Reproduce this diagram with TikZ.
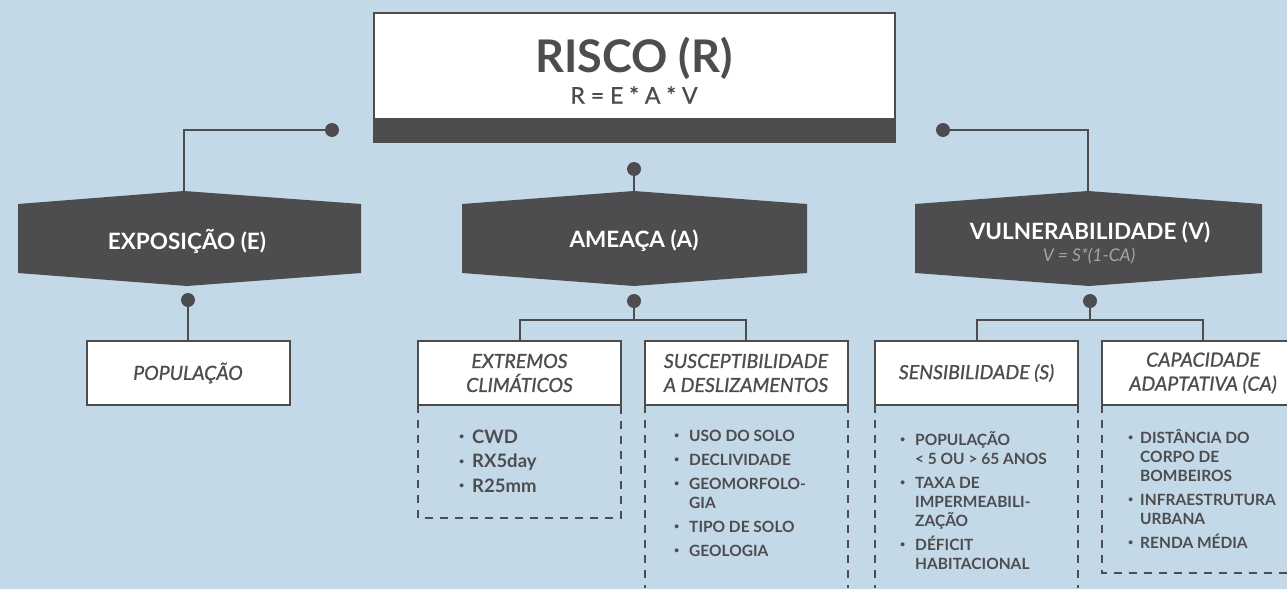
\documentclass[tikz,border=0pt]{standalone}
\usepackage{fontspec}
\setmainfont{Lato}
\newfontfamily\semi[FakeBold=1]{Lato}
\usetikzlibrary{positioning}

\definecolor{fundo}{RGB}{195,217,232}
\definecolor{cinza}{RGB}{77,77,79}
\definecolor{claro}{RGB}{165,165,168}

\newcommand{\marca}[1][15pt]{\makebox[#1][l]{\raisebox{0.19em}{\fontsize{9}{9}\selectfont\textbullet}}}
\newcommand{\recuo}[1][15pt]{\hspace*{#1}}

\tikzset{
  caixa/.style={draw=cinza,line width=2pt,fill=white,minimum width=203pt,minimum height=64pt,
    inner sep=0pt,outer sep=0pt,align=center,text=cinza,font=\semi\itshape\fontsize{19.5}{24}\selectfont},
  rotulo/.style={text=white,font=\bfseries\fontsize{22.5}{25}\selectfont,align=center},
  liga/.style={cinza,line width=2pt},
  ponto/.style={circle,fill=cinza,inner sep=0pt,minimum size=14pt},
  tracos/.style={cinza,line width=2pt,dash pattern=on 8pt off 7pt},
  lista/.style={text=cinza,font=\bfseries\fontsize{15.5}{19}\selectfont,align=left,anchor=north west,inner sep=0pt}
}

\begin{document}
\begin{tikzpicture}[x=1pt,y=-1pt]
  \useasboundingbox (0,0) rectangle (1287,589);
  \fill[fundo] (0,0) rectangle (1287,589);

  % risco
  \fill[cinza] (373,12) rectangle (896,143);
  \fill[white] (375,14) rectangle (894,118);
  \node[text=cinza,font=\bfseries\fontsize{45}{45}\selectfont] (risco) at (634,58) {RISCO (R)};
  \node[text=cinza,font=\semi\fontsize{23}{23}\selectfont] (formula) at (634,95) {R = E * A * V};

  % componentes
  \fill[cinza] (18,204) -- (184,191) -- (361,204) -- (361,273) -- (187,286) -- (18,273) -- cycle;
  \fill[cinza] (462,204) -- (634,191) -- (807,204) -- (807,273) -- (634,286) -- (462,273) -- cycle;
  \fill[cinza] (915,204) -- (1088,191) -- (1262,204) -- (1262,273) -- (1089,286) -- (915,273) -- cycle;
  \coordinate (expo-n) at (184,191);
  \coordinate (ameaca-n) at (634,191);
  \coordinate (vulne-n) at (1088,191);
  \node[rotulo] (expo) at (187,241) {EXPOSIÇÃO (E)};
  \node[rotulo] (ameaca) at (634,241) {AMEAÇA (A)};
  \node[rotulo] (vulne) at (1090,232) {VULNERABILIDADE (V)};
  \node[text=claro,font=\itshape\fontsize{17.5}{17.5}\selectfont] (formulav) at (1089,256) {V = S*(1-CA)};

  \node[ponto] (d1) at (332,130) {};
  \node[ponto] (d2) at (634,169) {};
  \node[ponto] (d3) at (943,130) {};
  \draw[liga] (d1) -| (expo-n);
  \draw[liga] (d2) -- (ameaca-n);
  \draw[liga] (d3) -| (vulne-n);

  % indicadores
  \node[caixa] (popul) at (188,373) {POPULAÇÃO};
  \node[caixa] (extremos) at (519.5,373) {EXTREMOS\\CLIMÁTICOS};
  \node[caixa] (suscept) at (746,373) {SUSCEPTIBILIDADE\\A DESLIZAMENTOS};
  \node[caixa] (sensib) at (976.5,373) {SENSIBILIDADE (S)};
  \node[caixa] (capac) at (1203,373) {CAPACIDADE\\ADAPTATIVA (CA)};

  \node[ponto] (d4) at (188,300) {};
  \node[ponto] (d5) at (634,301) {};
  \node[ponto] (d6) at (1090,301) {};
  \coordinate (barra-a) at (634,320);
  \coordinate (barra-v) at (1090,320);
  \draw[liga] (d4) -- (popul);
  \draw[liga] (d5) -- (barra-a);
  \draw[liga] (extremos) |- (barra-a) -| (suscept);
  \draw[liga] (d6) -- (barra-v);
  \draw[liga] (sensib) |- (barra-v) -| (capac);

  \draw[tracos] (extremos.south west) -- ++(0,113) -| (extremos.south east);
  \draw[tracos] (suscept.south west) -- ++(0,183);
  \draw[tracos] (suscept.south east) -- ++(0,183);
  \draw[tracos] (sensib.south west) -- ++(0,183);
  \draw[tracos] (sensib.south east) -- ++(0,183);
  \draw[tracos] (capac.south west) -- ++(0,168) -- ++(200,0);

  % listas
  \node[lista,font=\bfseries\fontsize{18.5}{24.5}\selectfont] (lista-ext) at (459,426)
    {\strut\marca[13pt]CWD\\\marca[13pt]RX5day\\\marca[13pt]R25mm};
  \node[lista] (lista-sus) at (674,428)
    {\strut\marca USO DO SOLO\\[5pt]\marca DECLIVIDADE\\[5pt]\marca GEOMORFOLO-\\\recuo GIA\\[5pt]\marca TIPO DE SOLO\\[5pt]\marca GEOLOGIA};
  \node[lista] (lista-sen) at (900,431)
    {\strut\marca POPULAÇÃO\\\recuo< 5 OU > 65 ANOS\\[5pt]\marca TAXA DE\\\recuo IMPERMEABILI-\\\recuo ZAÇÃO\\[5pt]\marca DÉFICIT\\\recuo HABITACIONAL};
  \node[lista] (lista-cap) at (1128,429)
    {\strut\marca[12pt]DISTÂNCIA DO\\\recuo[12pt]CORPO DE\\\recuo[12pt]BOMBEIROS\\[5pt]\marca[12pt]INFRAESTRUTURA\\\recuo[12pt]URBANA\\[5pt]\marca[12pt]RENDA MÉDIA};
\end{tikzpicture}
\end{document}
